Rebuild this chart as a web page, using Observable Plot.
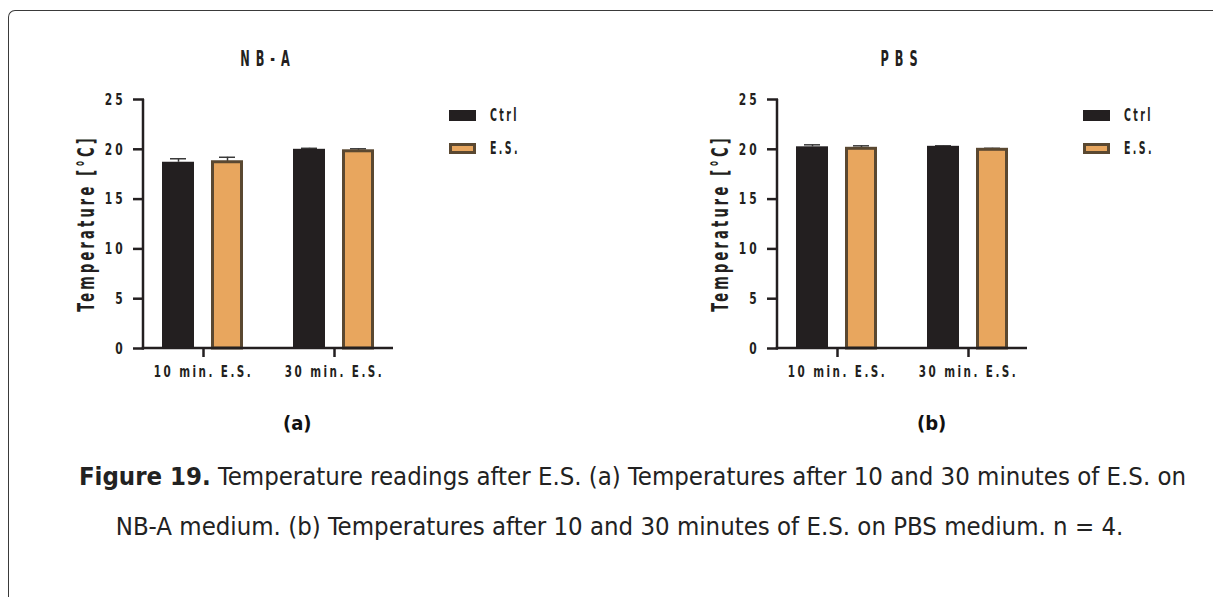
<!DOCTYPE html>
<html>
<head>
<meta charset="utf-8">
<script src="https://cdn.jsdelivr.net/npm/d3@7"></script>
<script src="https://cdn.jsdelivr.net/npm/@observablehq/plot@0.6"></script>
<style>
  html, body { margin: 0; padding: 0; background: #fff; }
  body { width: 1213px; height: 597px; position: relative; overflow: hidden; }
  .frame {
    position: absolute; left: 8px; top: 10px; width: 1230px; height: 620px;
    border-top: 1.5px solid #3a3a3a; border-left: 1.5px solid #3a3a3a;
    border-top-left-radius: 7px;
  }
  .panel { position: absolute; top: 0; }
  .sub { position: absolute; top: 411px; font-family: "DejaVu Sans Condensed", "Liberation Sans", sans-serif; font-weight: bold; font-size: 20px; color: #111; }
  .caption {
    position: absolute; width: 1213px; text-align: center;
    font-family: "DejaVu Sans Condensed", "Liberation Sans", sans-serif;
    font-size: 25.5px; color: #222;
  }
  .caption b { font-weight: bold; }
</style>
</head>
<body>
<div class="frame"></div>
<div id="panelA" class="panel" style="left:0px"></div>
<div id="panelB" class="panel" style="left:634px"></div>
<div class="sub" style="left:283px">(a)</div>
<div class="sub" style="left:917px">(b)</div>
<div class="caption" style="left:26px; top:461px"><b>Figure 19.</b> Temperature readings after E.S. (a) Temperatures after 10 and 30 minutes of E.S. on</div>
<div class="caption" style="left:13px; top:511px">NB-A medium. (b) Temperatures after 10 and 30 minutes of E.S. on PBS medium. n = 4.</div>
<script>
// Groups (exposure times) and series (control vs. electrical stimulation)
const groups = ["10 min. E.S.", "30 min. E.S."];
const series = ["Ctrl", "E.S."];
const yTicks = [0, 5, 10, 15, 20, 25];

// NB-A medium: mean temperature (°C) and error per group
const nbaCtrl = [18.7, 20.0];
const nbaCtrlErr = [0.35, 0.1];
const nbaES = [18.7, 19.8];
const nbaESErr = [0.5, 0.25];

// PBS medium: mean temperature (°C) and error per group
const pbsCtrl = [20.25, 20.3];
const pbsCtrlErr = [0.2, 0.05];
const pbsES = [20.05, 19.95];
const pbsESErr = [0.3, 0.15];

const fills = ["#231f20", "#e8a65e"];
const strokes = ["#231f20", "#5a4831"];
const INK = "#231f20";
const FONT = '"DejaVu Sans Condensed", "Liberation Sans", sans-serif';

function rows(ctrl, ctrlErr, es, esErr) {
  const out = [];
  groups.forEach((g, i) => {
    out.push({group: g, series: series[0], value: ctrl[i], err: ctrlErr[i]});
    out.push({group: g, series: series[1], value: es[i], err: esErr[i]});
  });
  return out;
}

// Squeeze text horizontally (glyphs and spacing) for a narrow, spaced-out look
function condense(selection, factor) {
  selection.each(function () {
    const len = this.getComputedTextLength();
    this.setAttribute("textLength", len * factor);
    this.setAttribute("lengthAdjust", "spacingAndGlyphs");
  });
}

function panel(container, title, data) {
  const plot = Plot.plot({
    width: 560,
    height: 400,
    marginLeft: 143,
    marginRight: 167,
    marginTop: 99,
    marginBottom: 52,
    style: {fontFamily: FONT, fontSize: "16.5px", fontWeight: "bold", color: INK, background: "transparent"},
    fx: {domain: groups, paddingInner: 0.1, paddingOuter: 0, label: null},
    x: {domain: series, axis: null, paddingInner: 0.34, paddingOuter: 0.354},
    y: {domain: [0, 25], label: null},
    color: {domain: series, range: fills},
    marks: [
      Plot.axisY({ticks: yTicks, tickSize: 11, tickPadding: 8, strokeWidth: 2.5, label: null, tickFormat: d => String(d)}),
      Plot.axisFx({anchor: "bottom", tickSize: 9, tickPadding: 8, strokeWidth: 2.5, label: null}),
      Plot.ruleX(data, {fx: "group", x: "series", y1: "value", y2: d => d.value + d.err, stroke: "#3a3a3a", strokeWidth: 1.5}),
      Plot.tickY(data, {fx: "group", x: "series", y: d => d.value + d.err, stroke: "#3a3a3a", strokeWidth: 1.5, insetLeft: 8, insetRight: 8}),
      Plot.barY(data.filter(d => d.series === series[0]), {
        fx: "group", x: "series", y: "value", fill: "series"
      }),
      // E.S. bars carry a brown outline kept inside the bar bounds
      Plot.barY(data.filter(d => d.series === series[1]), {
        fx: "group", x: "series", y: "value", fill: "series",
        stroke: strokes[1], strokeWidth: 3, insetLeft: 1.5, insetRight: 1.5
      })
    ]
  });
  container.appendChild(plot);

  const fx = plot.scale("fx");
  const y = plot.scale("y");
  const [x0, x1] = fx.range;
  const y0 = y.apply(0), yTop = y.apply(25);
  const svg = d3.select(plot);

  // axis lines along the left and bottom of the plotting area
  const g = svg.append("g").attr("stroke", INK).attr("stroke-width", 2.5).attr("fill", "none");
  g.append("line").attr("x1", x0).attr("x2", x0).attr("y1", yTop).attr("y2", y0 + 1.25);
  g.append("line").attr("x1", x0 - 1.25).attr("x2", x1).attr("y1", y0).attr("y2", y0);

  // tick labels: spaced out, then narrowed
  const ticksY = svg.selectAll('g[aria-label="y-axis tick label"] text').style("letter-spacing", "4px");
  const ticksFx = svg.selectAll('g[aria-label="fx-axis tick label"] text').style("letter-spacing", "3.5px");
  condense(ticksY, 0.72);
  condense(ticksFx, 0.7);

  // rotated y label
  const yl = svg.append("text")
    .attr("transform", `translate(${x0 - 56},${(y0 + yTop) / 2}) rotate(-90)`)
    .attr("text-anchor", "middle")
    .attr("dominant-baseline", "middle")
    .attr("font-size", 22.5)
    .attr("font-weight", "bold")
    .attr("fill", INK)
    .style("letter-spacing", "5px")
    .text("Temperature [°C]");
  condense(yl, 0.64);

  // title
  const tt = svg.append("text")
    .attr("x", (x0 + x1) / 2)
    .attr("y", 60)
    .attr("text-anchor", "middle")
    .attr("dominant-baseline", "middle")
    .attr("font-size", 21)
    .attr("font-weight", "bold")
    .attr("fill", INK)
    .style("letter-spacing", "10px")
    .text(title);
  condense(tt, 0.6);

  // legend
  const lg = svg.append("g").attr("transform", `translate(${x1 + 56},110)`);
  series.forEach((s, i) => {
    const row = lg.append("g").attr("transform", `translate(0,${i * 33})`);
    if (i === 0) {
      row.append("rect").attr("width", 27).attr("height", 11).attr("fill", fills[0]);
    } else {
      row.append("rect").attr("x", 1.5).attr("y", 1.5).attr("width", 24).attr("height", 8)
        .attr("fill", fills[1]).attr("stroke", strokes[1]).attr("stroke-width", 3);
    }
    const lab = row.append("text")
      .attr("x", 41).attr("y", 6)
      .attr("text-anchor", "start")
      .attr("dominant-baseline", "middle")
      .attr("font-size", 17.5)
      .attr("font-weight", "bold")
      .attr("fill", INK)
      .style("letter-spacing", "4px")
      .text(s);
    condense(lab, 0.6);
  });
}

panel(document.getElementById("panelA"), "NB-A", rows(nbaCtrl, nbaCtrlErr, nbaES, nbaESErr));
panel(document.getElementById("panelB"), "PBS", rows(pbsCtrl, pbsCtrlErr, pbsES, pbsESErr));
</script>
</body>
</html>
